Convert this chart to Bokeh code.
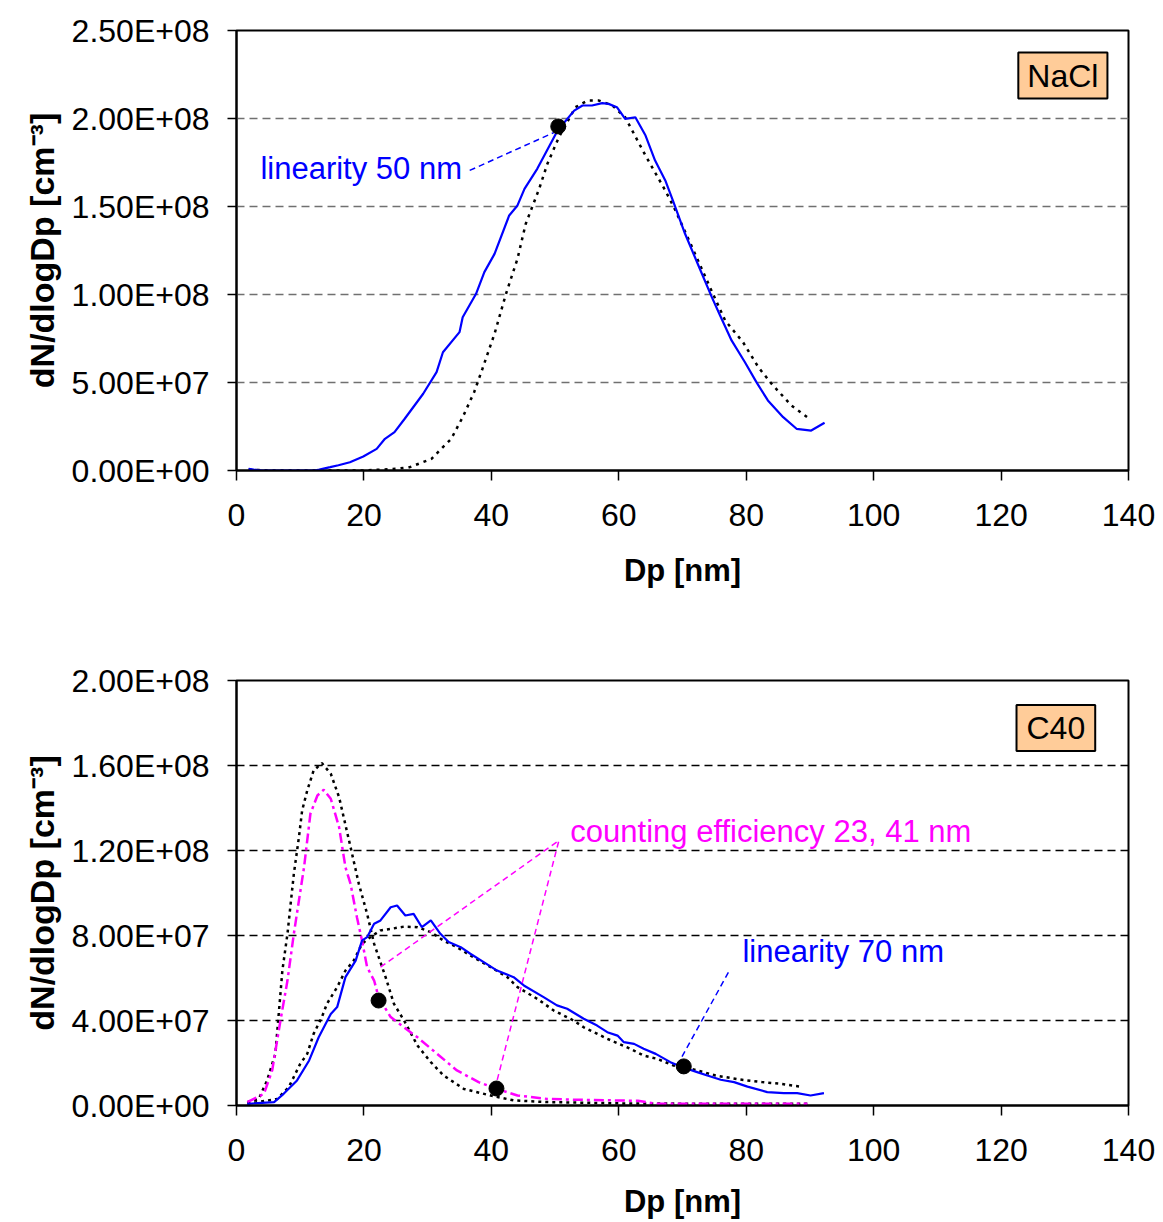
from bokeh.plotting import figure
from bokeh.layouts import column
from bokeh.models import FixedTicker, Range1d, Label
from bokeh.embed import file_html
from bokeh.resources import INLINE

# ---------------- data (Dp in nm, dN/dlogDp in cm^-3) ----------------
nacl_blue_dp = [1.9, 2.7, 4.0, 12.3, 13.0, 14.7, 16.0, 17.8, 19.9, 22.0, 23.3, 24.8, 26.4, 29.3, 31.4,
                32.4, 35.0, 35.5, 37.6, 38.9, 40.5, 42.8, 44.1, 45.2, 47.2, 50.4, 53.0, 54.3, 55.8,
                57.4, 58.4, 59.7, 61.0, 62.6, 64.2, 65.7, 67.3, 68.6, 70.4, 72.5, 74.6, 75.9, 77.7,
                79.8, 81.6, 83.4, 85.8, 87.9, 90.2, 92.3]
nacl_blue_n = [1.0e6, 0.5e6, 0.0, 0.0, 0.5e6, 1.9e6, 3.0e6, 4.7e6, 8.0e6, 12.3e6, 18.0e6, 21.8e6, 29.4e6,
               43.6e6, 55.9e6, 67.2e6, 78.6e6, 87.1e6, 100.4e6, 112.7e6, 123.1e6, 144.9e6, 150.6e6,
               160.0e6, 171.4e6, 193.2e6, 204.5e6, 207.4e6, 207.4e6, 208.7e6, 208.3e6, 206.4e6,
               199.8e6, 200.7e6, 190.3e6, 176.1e6, 164.8e6, 152.4e6, 134.5e6, 116.5e6, 98.5e6,
               88.1e6, 73.9e6, 61.5e6, 50.2e6, 39.8e6, 30.3e6, 23.7e6, 22.7e6, 27.1e6]

nacl_ref_dp = [1.9, 5.0, 10.0, 15.0, 20.0, 25.1, 27.2, 30.6, 32.4, 33.7, 35.5, 37.3, 38.6, 40.5, 42.3,
               44.1, 45.4, 47.5, 48.8, 50.6, 53.2, 55.1, 56.9, 59.0, 61.0, 64.2, 67.3, 68.9, 71.5,
               74.3, 76.7, 79.5, 81.9, 84.0, 87.1, 89.9]
nacl_ref_n = [0.5e6, 0.0, 0.0, 0.0, 0.0, 1.0e6, 1.9e6, 6.6e6, 13.3e6, 18.0e6, 30.3e6, 44.5e6, 57.8e6,
              77.7e6, 100.4e6, 120.3e6, 140.2e6, 160.0e6, 174.3e6, 189.4e6, 206.4e6, 210.2e6,
              210.2e6, 207.4e6, 200.7e6, 178.9e6, 159.1e6, 147.7e6, 126.9e6, 104.2e6, 85.2e6,
              72.9e6, 58.7e6, 49.2e6, 36.9e6, 29.4e6]

c40_ref1_dp = [1.7, 3.5, 4.8, 6.1, 7.2, 8.0, 9.0, 9.8, 10.3, 11.1, 12.1, 13.4, 14.8, 16.1, 17.9, 19.2,
               20.5, 21.6, 23.4, 24.7, 26.3, 28.4, 30.5, 32.5, 35.7, 39.9, 43.5, 48.8, 60.0, 75.0, 89.6]
c40_ref1_n = [1.6e6, 3.1e6, 11.8e6, 24.3e6, 63.5e6, 80.8e6, 109.0e6, 126.3e6, 138.8e6, 148.2e6,
              157.6e6, 161.1e6, 156.1e6, 145.1e6, 121.6e6, 104.3e6, 90.2e6, 76.1e6, 60.4e6, 47.9e6,
              40.0e6, 28.2e6, 20.4e6, 14.1e6, 7.8e6, 4.7e6, 2.4e6, 1.6e6, 1.0e6, 0.8e6, 0.8e6]

c40_eff_dp = [1.7, 4.3, 5.6, 6.9, 8.0, 9.0, 9.8, 10.6, 11.6, 12.7, 13.7, 14.8, 16.1, 17.1, 17.9, 18.9,
              19.7, 20.5, 21.6, 22.3, 24.2, 26.3, 28.4, 31.5, 34.6, 38.0, 40.9, 44.1, 48.8, 53.5,
              63.0, 66.0, 89.6]
c40_eff_n = [1.6e6, 5.5e6, 16.5e6, 40.0e6, 58.8e6, 80.8e6, 96.5e6, 112.1e6, 137.3e6, 145.9e6, 148.6e6,
             144.3e6, 131.0e6, 112.1e6, 104.3e6, 88.6e6, 77.6e6, 65.1e6, 58.8e6, 51.0e6, 41.6e6,
             36.8e6, 32.1e6, 24.3e6, 16.5e6, 11.0e6, 7.8e6, 4.7e6, 3.1e6, 2.7e6, 2.2e6, 0.8e6, 0.8e6]

c40_blue_dp = [1.7, 5.9, 7.4, 9.5, 11.4, 12.9, 14.8, 15.8, 17.1, 18.7, 19.7, 20.5, 21.6, 22.6, 24.2,
               25.2, 26.5, 27.8, 29.1, 30.5, 32.0, 33.3, 35.2, 36.7, 38.8, 40.9, 43.5, 45.1, 48.2,
               50.3, 51.9, 54.5, 56.6, 58.2, 59.8, 60.8, 62.4, 63.9, 65.8, 68.1, 70.0, 72.3, 73.9,
               76.0, 78.1, 80.2, 83.3, 85.9, 88.0, 90.1, 92.2]
c40_blue_n = [0.8e6, 1.6e6, 5.5e6, 11.8e6, 21.2e6, 32.1e6, 43.1e6, 46.3e6, 60.4e6, 68.2e6, 77.6e6,
              79.2e6, 85.5e6, 87.1e6, 93.3e6, 94.1e6, 89.4e6, 90.2e6, 83.9e6, 87.1e6, 80.8e6, 76.9e6,
              74.5e6, 71.4e6, 67.5e6, 63.5e6, 60.4e6, 56.5e6, 51.0e6, 47.1e6, 45.5e6, 40.8e6,
              37.6e6, 34.5e6, 32.9e6, 29.8e6, 29.0e6, 26.7e6, 24.3e6, 20.4e6, 18.0e6, 15.7e6,
              14.1e6, 12.1e6, 11.0e6, 8.9e6, 6.3e6, 5.8e6, 5.8e6, 4.7e6, 5.8e6]

c40_ref2_dp = [1.7, 6.4, 8.2, 10.0, 11.1, 12.1, 13.4, 14.2, 15.8, 17.1, 18.4, 19.7, 21.0, 22.6, 24.2,
               26.3, 28.4, 30.5, 32.5, 34.6, 36.7, 39.9, 42.5, 44.1, 47.2, 49.8, 52.9, 54.5, 58.2,
               61.8, 63.9, 66.0, 68.6, 71.3, 73.3, 75.2, 79.1, 82.5, 85.4, 88.5]
c40_ref2_n = [0.8e6, 3.1e6, 8.6e6, 19.6e6, 24.3e6, 33.7e6, 41.6e6, 47.9e6, 55.7e6, 63.5e6, 68.2e6,
              76.1e6, 79.2e6, 82.4e6, 83.1e6, 84.2e6, 83.9e6, 81.6e6, 77.6e6, 74.5e6, 70.6e6,
              65.1e6, 60.4e6, 55.7e6, 50.2e6, 44.7e6, 40.0e6, 36.8e6, 31.4e6, 26.7e6, 23.5e6,
              22.0e6, 18.8e6, 17.3e6, 15.7e6, 14.1e6, 12.2e6, 11.0e6, 10.2e6, 8.9e6]

# marked points
nacl_mark_dp = [50.5]
nacl_mark_n = [195.5e6]
c40_mark_dp = [22.3, 40.8, 70.2]
c40_mark_n = [49.4e6, 8.0e6, 18.4e6]

# annotation leader lines
nacl_lead_dp = [36.6, 49.8]
nacl_lead_n = [170.5e6, 192.0e6]
c40_eff_lead_dp = [22.6, 50.6, 40.9]
c40_eff_lead_n = [65.1e6, 124.7e6, 11.8e6]
c40_lin_lead_dp = [77.2, 69.4]
c40_lin_lead_n = [62.6e6, 20.2e6]

# ticks
x_ticks = [0, 20, 40, 60, 80, 100, 120, 140]
x_tick_labels = ["0", "20", "40", "60", "80", "100", "120", "140"]
y_ticks_top = [0, 50000000, 100000000, 150000000, 200000000, 250000000]
y_tick_labels_top = ["0.00E+00", "5.00E+07", "1.00E+08", "1.50E+08", "2.00E+08", "2.50E+08"]
y_ticks_bot = [0, 40000000, 80000000, 120000000, 160000000, 200000000]
y_tick_labels_bot = ["0.00E+00", "4.00E+07", "8.00E+07", "1.20E+08", "1.60E+08", "2.00E+08"]

FONT = "Liberation Sans"
BLUE = "#0000FF"
MAGENTA = "#FF00FF"


def make_fig(height, b_top, b_bottom, b_right, ymax, yticks, ylabels, grid_color, xlab_standoff):
    p = figure(width=1163, height=height, x_range=Range1d(0, 140), y_range=Range1d(0, ymax),
               output_backend="svg", toolbar_location=None,
               min_border_left=236, min_border_right=b_right,
               min_border_top=b_top, min_border_bottom=b_bottom)
    p.outline_line_color = "black"
    p.outline_line_width = 2
    p.background_fill_color = "white"
    p.border_fill_color = "white"
    p.xgrid.visible = False
    p.ygrid.grid_line_color = grid_color
    p.ygrid.grid_line_width = 1.5
    p.ygrid.grid_line_dash = "8 5"
    p.xaxis.ticker = FixedTicker(ticks=x_ticks)
    p.xaxis.major_label_overrides = dict(zip(x_ticks, x_tick_labels))
    p.yaxis.ticker = FixedTicker(ticks=yticks)
    p.yaxis.major_label_overrides = dict(zip(yticks, ylabels))
    p.ygrid.ticker = FixedTicker(ticks=yticks)
    for ax in (p.xaxis[0], p.yaxis[0]):
        ax.axis_line_color = "black"
        ax.axis_line_width = 2
        ax.major_tick_line_color = "black"
        ax.major_tick_line_width = 1.5
        ax.major_tick_in = 0
        ax.minor_tick_line_color = None
        ax.major_label_text_font = FONT
        ax.major_label_text_font_size = "32px"
        ax.major_label_text_color = "black"
        ax.axis_label_text_font = FONT
        ax.axis_label_text_font_style = "bold"
        ax.axis_label_text_color = "black"
    p.xaxis.major_tick_out = 10
    p.xaxis.major_label_standoff = 23
    p.xaxis.axis_label = "Dp [nm]"
    p.xaxis.axis_label_text_font_size = "31px"
    p.xaxis.axis_label_standoff = xlab_standoff
    p.yaxis.major_tick_out = 9
    p.yaxis.major_label_standoff = 18
    p.yaxis.axis_label = "dN/dlogDp [cm\u207b\u00b3]"
    p.yaxis.axis_label_text_font_size = "34px"
    p.yaxis.axis_label_standoff = 8
    return p


def add_text(p, x, y, text, color):
    p.add_layout(Label(x=x, y=y, y_offset=11, text=text, text_color=color, text_font=FONT,
                       text_font_size="31px", text_baseline="alphabetic", text_align="left"))


def add_box(p, x, y, text, pad_h):
    p.add_layout(Label(x=x, y=y, text=text, text_color="black", text_font=FONT,
                       text_font_size="32px", text_baseline="middle", text_align="center",
                       background_fill_color="#FFCC99", border_line_color="black",
                       border_line_width=2, padding=(pad_h, 5)))


# ---------------- top: NaCl ----------------
p1 = make_fig(600, 30, 130, 31, 2.5e8, y_ticks_top, y_tick_labels_top, "#707070", 24)
p1.line(nacl_ref_dp, nacl_ref_n, line_color="black", line_width=2.5, line_dash="3 5")
p1.line(nacl_blue_dp, nacl_blue_n, line_color=BLUE, line_width=2.2)
p1.line(nacl_lead_dp, nacl_lead_n, line_color=BLUE, line_width=1.5, line_dash="6 4")
p1.scatter(nacl_mark_dp, nacl_mark_n, size=15, fill_color="black", line_color="black")
add_text(p1, 3.75, 165.3e6, "linearity 50 nm", BLUE)
add_box(p1, 129.7, 224.4e6, "NaCl", 9)

# ---------------- bottom: C40 ----------------
p2 = make_fig(622, 80, 117, 35, 2.0e8, y_ticks_bot, y_tick_labels_bot, "black", 20)
p2.line(c40_ref1_dp, c40_ref1_n, line_color="black", line_width=2.5, line_dash="3 4")
p2.line(c40_ref2_dp, c40_ref2_n, line_color="black", line_width=2.5, line_dash="3 4")
p2.line(c40_eff_dp, c40_eff_n, line_color=MAGENTA, line_width=2.5, line_dash="10 4 3 4")
p2.line(c40_blue_dp, c40_blue_n, line_color=BLUE, line_width=2.2)
p2.line(c40_eff_lead_dp, c40_eff_lead_n, line_color=MAGENTA, line_width=1.5, line_dash="6 4")
p2.line(c40_lin_lead_dp, c40_lin_lead_n, line_color=BLUE, line_width=1.5, line_dash="6 4")
p2.scatter(c40_mark_dp, c40_mark_n, size=15, fill_color="black", line_color="black")
add_text(p2, 52.4, 123.9e6, "counting efficiency 23, 41 nm", MAGENTA)
add_text(p2, 79.4, 67.4e6, "linearity 70 nm", BLUE)
add_box(p2, 128.6, 177.6e6, "C40", 10)

layout = column(p1, p2, spacing=0)
open("out.html", "w").write(file_html(layout, INLINE))
